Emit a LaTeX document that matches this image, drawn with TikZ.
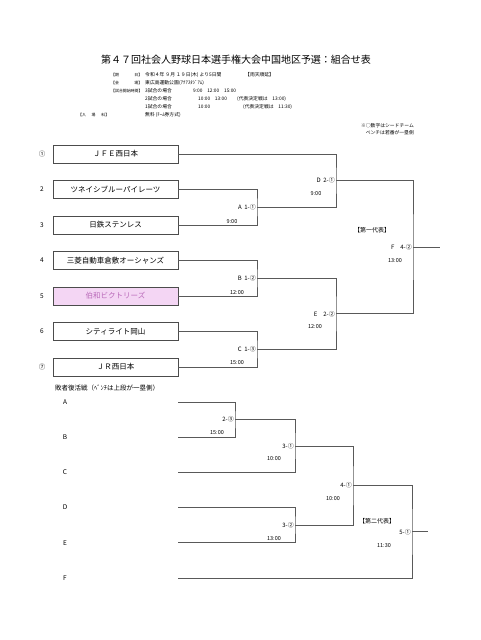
\documentclass[tikz,border=0pt]{standalone}
\usepackage{fontspec}
\usepackage{tikz}
\usetikzlibrary{calc}
\newfontfamily\jp{Noto Sans CJK JP}
\newcommand{\fs}[1]{\fontsize{#1}{#1}\selectfont}
\newcommand{\kakko}[1]{\makebox[31pt][s]{\fs{3.9}#1}}
\definecolor{wireg}{gray}{0.35}
\definecolor{pinkfill}{RGB}{244,214,244}
\definecolor{pinktxt}{RGB}{185,105,185}

\begin{document}
\begin{tikzpicture}[x=1pt,y=-1pt,font=\jp,
  team/.style={draw=black!70,line width=0.7pt,minimum width=125pt,minimum height=18pt,inner sep=0pt,font=\jp\fs{7.5}},
  hakuwa/.style={team,fill=pinkfill,text=pinktxt},
  wire/.style={draw=wireg,line width=0.7pt},
  score/.style={anchor=east,inner sep=1pt,font=\jp\fs{6}},
  clock/.style={inner sep=0pt,font=\jp\fs{5.5}},
  info/.style={anchor=west,inner sep=0pt,font=\jp\fs{4.8}},
  seed/.style={inner sep=0pt,font=\jp\fs{6.5}}]
 \useasboundingbox (0,0) rectangle (480,640);
 \node[font=\jp\fs{10}] (title) at (236,60) {第４７回社会人野球日本選手権大会中国地区予選：組合せ表};
 % info block
 \node[info] (k1) at (111,75) {\kakko{【期\hfill 日】}};
 \node[info] (v1) at (145,75) {令和４年\ ９月\ １９日(木)\ より5日間};
 \node[info] (v1b) at (245,75) {【雨天順延】};
 \node[info] (k2) at (111,83) {\kakko{【会\hfill 場】}};
 \node[info] (v2) at (145,83) {東広島運動公園};
 \node[info] (v2b) at (179,83) {(ｱｸｱｽﾀｼﾞｱﾑ)};
 \node[info] (k3) at (111,91) {\kakko{【試合開始時間】}};
 \node[info] (v3) at (145,91) {3試合の場合};
 \node[info] (v3b) at (193,91) {9:00\quad 12:00\quad 15:00};
 \node[info] (v4) at (145,99) {2試合の場合};
 \node[info] (v4b) at (198,99) {10:00\quad 13:00};
 \node[info] (v4c) at (237,99) {(代表決定戦は\quad 13:00)};
 \node[info] (v5) at (145,107) {1試合の場合};
 \node[info] (v5b) at (198,107) {10:00};
 \node[info] (v5c) at (243,107) {(代表決定戦は\quad 11:30)};
 \node[info] (k6) at (78,115) {\kakko{【入\hfill 場\hfill 料】}};
 \node[info] (v6) at (145,115) {無料\ (ﾁｰﾑ券方式)};
 \node[info,anchor=east] (n1) at (414,126) {※○数字はシードチーム};
 \node[info,anchor=east] (n2) at (414,133) {ベンチは若番が一塁側};
 % teams
 \foreach \i/\sd/\name/\look in {1/①/ＪＦＥ西日本/team,2/2/ツネイシブルーパイレーツ/team,3/3/日鉄ステンレス/team,
   4/4/三菱自動車倉敷オーシャンズ/team,5/5/伯和ビクトリーズ/hakuwa,6/6/シティライト岡山/team,7/⑦/ＪＲ西日本/team}{
  \node[\look] (t\i) at (115.5,{154+35.5*(\i-1)}) {\name};
  \node[seed] (s\i) at (42,{154+35.5*(\i-1)}) {\sd};
 }
 \coordinate (mA) at (257,207.25);
 \coordinate (mB) at (257,278.25);
 \coordinate (mC) at (257,349.25);
 \coordinate (mD) at (336,180.6);
 \coordinate (mE) at (336,313.75);
 \coordinate (mF) at (413,247.2);
 \coordinate (rep1) at (440,247.2);
 \draw[wire] (t2.east) -| (mA) |- (t3.east);
 \draw[wire] (t4.east) -| (mB) |- (t5.east);
 \draw[wire] (t6.east) -| (mC) |- (t7.east);
 \draw[wire] (t1.east) -| (mD) |- (mA);
 \draw[wire] (mB) -| (mE) |- (mC);
 \draw[wire] (mD) -| (mF) |- (mE);
 \draw[wire] (mF) -- (rep1);
 \node[score] (lA) at (mA) {A\ \ 1-①};
 \node[clock] (cA) at ($(mA)+(-25,14)$) {9:00};
 \node[score] (lB) at (mB) {B\ \ 1-②};
 \node[clock] (cB) at ($(mB)+(-20,14)$) {12:00};
 \node[score] (lC) at (mC) {C\ \ 1-③};
 \node[clock] (cC) at ($(mC)+(-20,13)$) {15:00};
 \node[score] (lD) at (mD) {D\ \ 2-①};
 \node[clock] (cD) at ($(mD)+(-20,13)$) {9:00};
 \node[score] (lE) at (mE) {E\quad 2-②};
 \node[clock] (cE) at ($(mE)+(-21,13)$) {12:00};
 \node[score] (lF) at (mF) {F\quad 4-②};
 \node[clock] (cF) at ($(mF)+(-18,13)$) {13:00};
 \node[font=\jp\fs{6}] (rep1lab) at (372,230) {【第一代表】};
 % losers bracket
 \node[anchor=west,inner sep=0pt,font=\jp\fs{6.5}] (lhead) at (55,388) {敗者復活戦（ﾍﾞﾝﾁは上段が一塁側）};
 \foreach \i/\L in {1/A,2/B,3/C,4/D,5/E,6/F}{
  \node[seed] (r\L) at (65,{402+35.2*(\i-1)}) {\L};
  \coordinate (e\L) at (178,{402+35.2*(\i-1)});
 }
 \coordinate (m1) at (235,419.6);
 \coordinate (m2) at (295,446);
 \coordinate (m3) at (295,525.2);
 \coordinate (m4) at (353,485.6);
 \coordinate (m5) at (412,531.8);
 \coordinate (rep2) at (428,531.8);
 \draw[wire] (eA) -| (m1) |- (eB);
 \draw[wire] (m1) -| (m2) |- (eC);
 \draw[wire] (eD) -| (m3) |- (eE);
 \draw[wire] (m2) -| (m4) |- (m3);
 \draw[wire] (m4) -| (m5) |- (eF);
 \draw[wire] (m5) -- (rep2);
 \node[score] (l1) at (m1) {2-③};
 \node[clock] (c1) at ($(m1)+(-18,13)$) {15:00};
 \node[score] (l2) at (m2) {3-①};
 \node[clock] (c2) at ($(m2)+(-21,13)$) {10:00};
 \node[score] (l3) at (m3) {3-②};
 \node[clock] (c3) at ($(m3)+(-21,13)$) {13:00};
 \node[score] (l4) at (m4) {4-①};
 \node[clock] (c4) at ($(m4)+(-20,13)$) {10:00};
 \node[score] (l5) at (m5) {5-①};
 \node[clock] (c5) at ($(m5)+(-28,14)$) {11:30};
 \node[font=\jp\fs{6}] (rep2lab) at (377,521) {【第二代表】};
\end{tikzpicture}
\end{document}
